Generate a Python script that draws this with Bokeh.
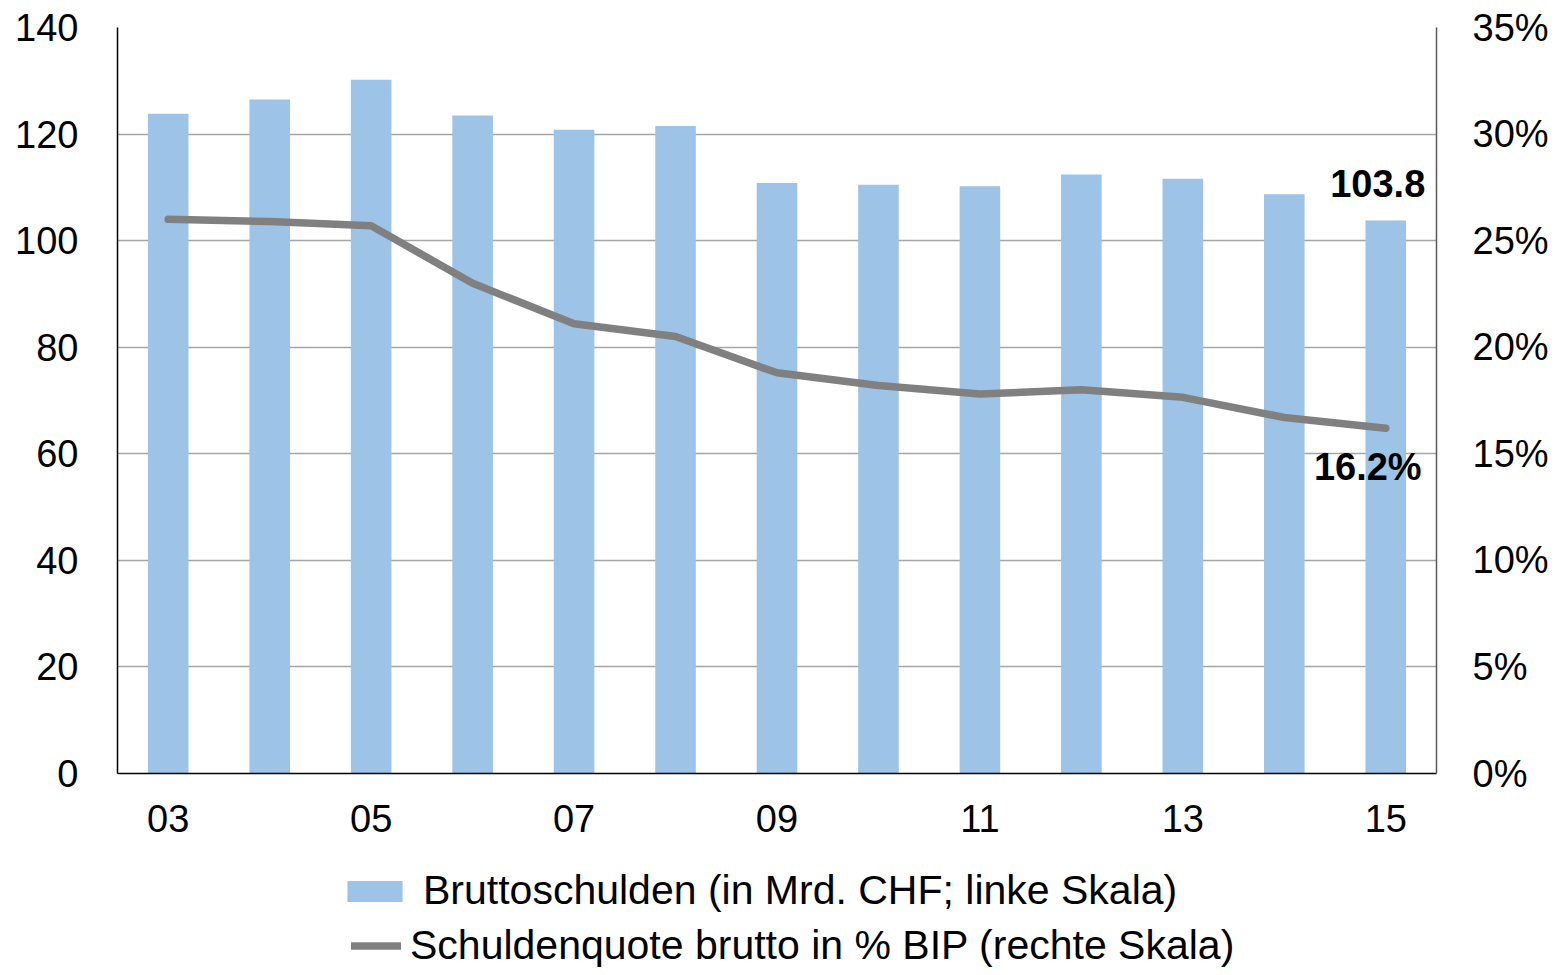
from bokeh.plotting import figure
from bokeh.layouts import column
from bokeh.models import Range1d, LinearAxis, FixedTicker, Legend, LegendItem, ColumnDataSource
from bokeh.core.properties import value
from bokeh.embed import file_html
from bokeh.resources import INLINE

# ---- data ----
years = [3, 4, 5, 6, 7, 8, 9, 10, 11, 12, 13, 14, 15]
debt = [123.8, 126.5, 130.2, 123.5, 120.8, 121.5, 110.8, 110.5, 110.2, 112.4, 111.6, 108.7, 103.8]
ratio = [26.0, 25.9, 25.7, 23.0, 21.1, 20.5, 18.8, 18.2, 17.8, 18.0, 17.65, 16.7, 16.2]
x_ticks = [3, 5, 7, 9, 11, 13, 15]
x_tick_labels = ["03", "05", "07", "09", "11", "13", "15"]
left_ticks = [0, 20, 40, 60, 80, 100, 120, 140]
right_ticks = [0, 5, 10, 15, 20, 25, 30, 35]
bar_label = "Bruttoschulden (in Mrd. CHF; linke Skala)"
line_label = "Schuldenquote brutto in % BIP (rechte Skala)"

FONT = "Liberation Sans"
FS = "38px"
BAR_COLOR = "#9DC3E6"
LINE_COLOR = "#808080"
W = 1554

src = ColumnDataSource(dict(x=years, debt=debt, ratio=ratio))

p = figure(width=W, height=850, output_backend="svg", toolbar_location=None,
           x_range=Range1d(2.5, 15.5), y_range=Range1d(0, 140),
           min_border_left=117, min_border_right=118, min_border_top=27,
           min_border_bottom=77)
p.extra_y_ranges = {"pct": Range1d(0, 35)}
p.outline_line_color = None
p.background_fill_color = "white"
p.border_fill_color = "white"

# grid
p.xgrid.visible = False
p.ygrid.ticker = FixedTicker(ticks=left_ticks)
p.ygrid.grid_line_color = "#a6a6a6"
p.ygrid.grid_line_width = 1.5

bars = p.vbar(x="x", top="debt", width=0.4, source=src, fill_color=BAR_COLOR,
              line_color=None)
line = p.line(x="x", y="ratio", source=src, y_range_name="pct", line_width=7.5,
              line_color=LINE_COLOR, line_cap="round", line_join="round")

# axes
xa = p.xaxis[0]
xa.ticker = FixedTicker(ticks=x_ticks)
xa.major_label_overrides = {t: l for t, l in zip(x_ticks, x_tick_labels)}
ya = p.yaxis[0]
ya.ticker = FixedTicker(ticks=left_ticks)

ra = LinearAxis(y_range_name="pct", ticker=FixedTicker(ticks=right_ticks))
ra.major_label_overrides = {t: f"{t}%" for t in right_ticks}
p.add_layout(ra, "right")

for ax in (xa, ya, ra):
    ax.major_tick_line_color = None
    ax.minor_tick_line_color = None
    ax.major_label_text_font = FONT
    ax.major_label_text_font_size = FS
    ax.major_label_text_color = "black"
    ax.axis_line_width = 1.5
xa.axis_line_color = "black"
ya.axis_line_color = "black"
ra.axis_line_color = "#595959"
xa.major_label_standoff = 25
ya.major_label_standoff = 33
ra.major_label_standoff = 30

# annotations from data
p.text(x=[years[-1]], y=[debt[-1]], text=[f"{debt[-1]:.1f}"], text_font=value(FONT),
       text_font_size=FS, text_font_style="bold", text_color="black",
       text_align="center", text_baseline="bottom", x_offset=-8, y_offset=-23)
p.text(x=[years[-1]], y=[ratio[-1]], text=[f"{ratio[-1]:.1f}%"], y_range_name="pct",
       text_font=value(FONT), text_font_size=FS, text_font_style="bold",
       text_color="black", text_align="center", text_baseline="top",
       x_offset=-18, y_offset=18)

# legend strip below the chart (its frame is aligned with the chart frame)
LH = 121
q = figure(width=W, height=LH, output_backend="svg", toolbar_location=None,
           x_range=Range1d(0, 1), y_range=Range1d(1000, 1001),
           x_axis_location=None, y_axis_location=None,
           min_border_left=0, min_border_right=0, min_border_top=0, min_border_bottom=0)
q.outline_line_color = None
q.xgrid.visible = False
q.ygrid.visible = False
q.border_fill_color = "white"
q.background_fill_color = "white"
# legend proxies (same data, lying outside the strip's visible range)
bar_proxy = q.vbar(x="x", top="debt", source=src, width=0.4, fill_color=BAR_COLOR,
                   line_color=None)
line_proxy = q.line(x="x", y="ratio", source=src, line_width=7.5, line_color=LINE_COLOR,
                    line_cap="round", line_join="round")

for item, loc, gw, gh, stand in (
        (LegendItem(label=bar_label, renderers=[bar_proxy]), (223, 57), 69, 26, 14),
        (LegendItem(label=line_label, renderers=[line_proxy]), (234, 2), 50, 21, 9)):
    lg = Legend(items=[item], location=loc, glyph_width=gw, glyph_height=gh,
                label_height=45, label_standoff=stand, label_text_font=FONT,
                label_text_font_size="41px", label_text_color="black",
                padding=0, margin=0, border_line_color=None,
                background_fill_alpha=0, spacing=0)
    q.add_layout(lg, "center")

layout = column(p, q, spacing=0)
open("out.html", "w").write(file_html(layout, INLINE))
